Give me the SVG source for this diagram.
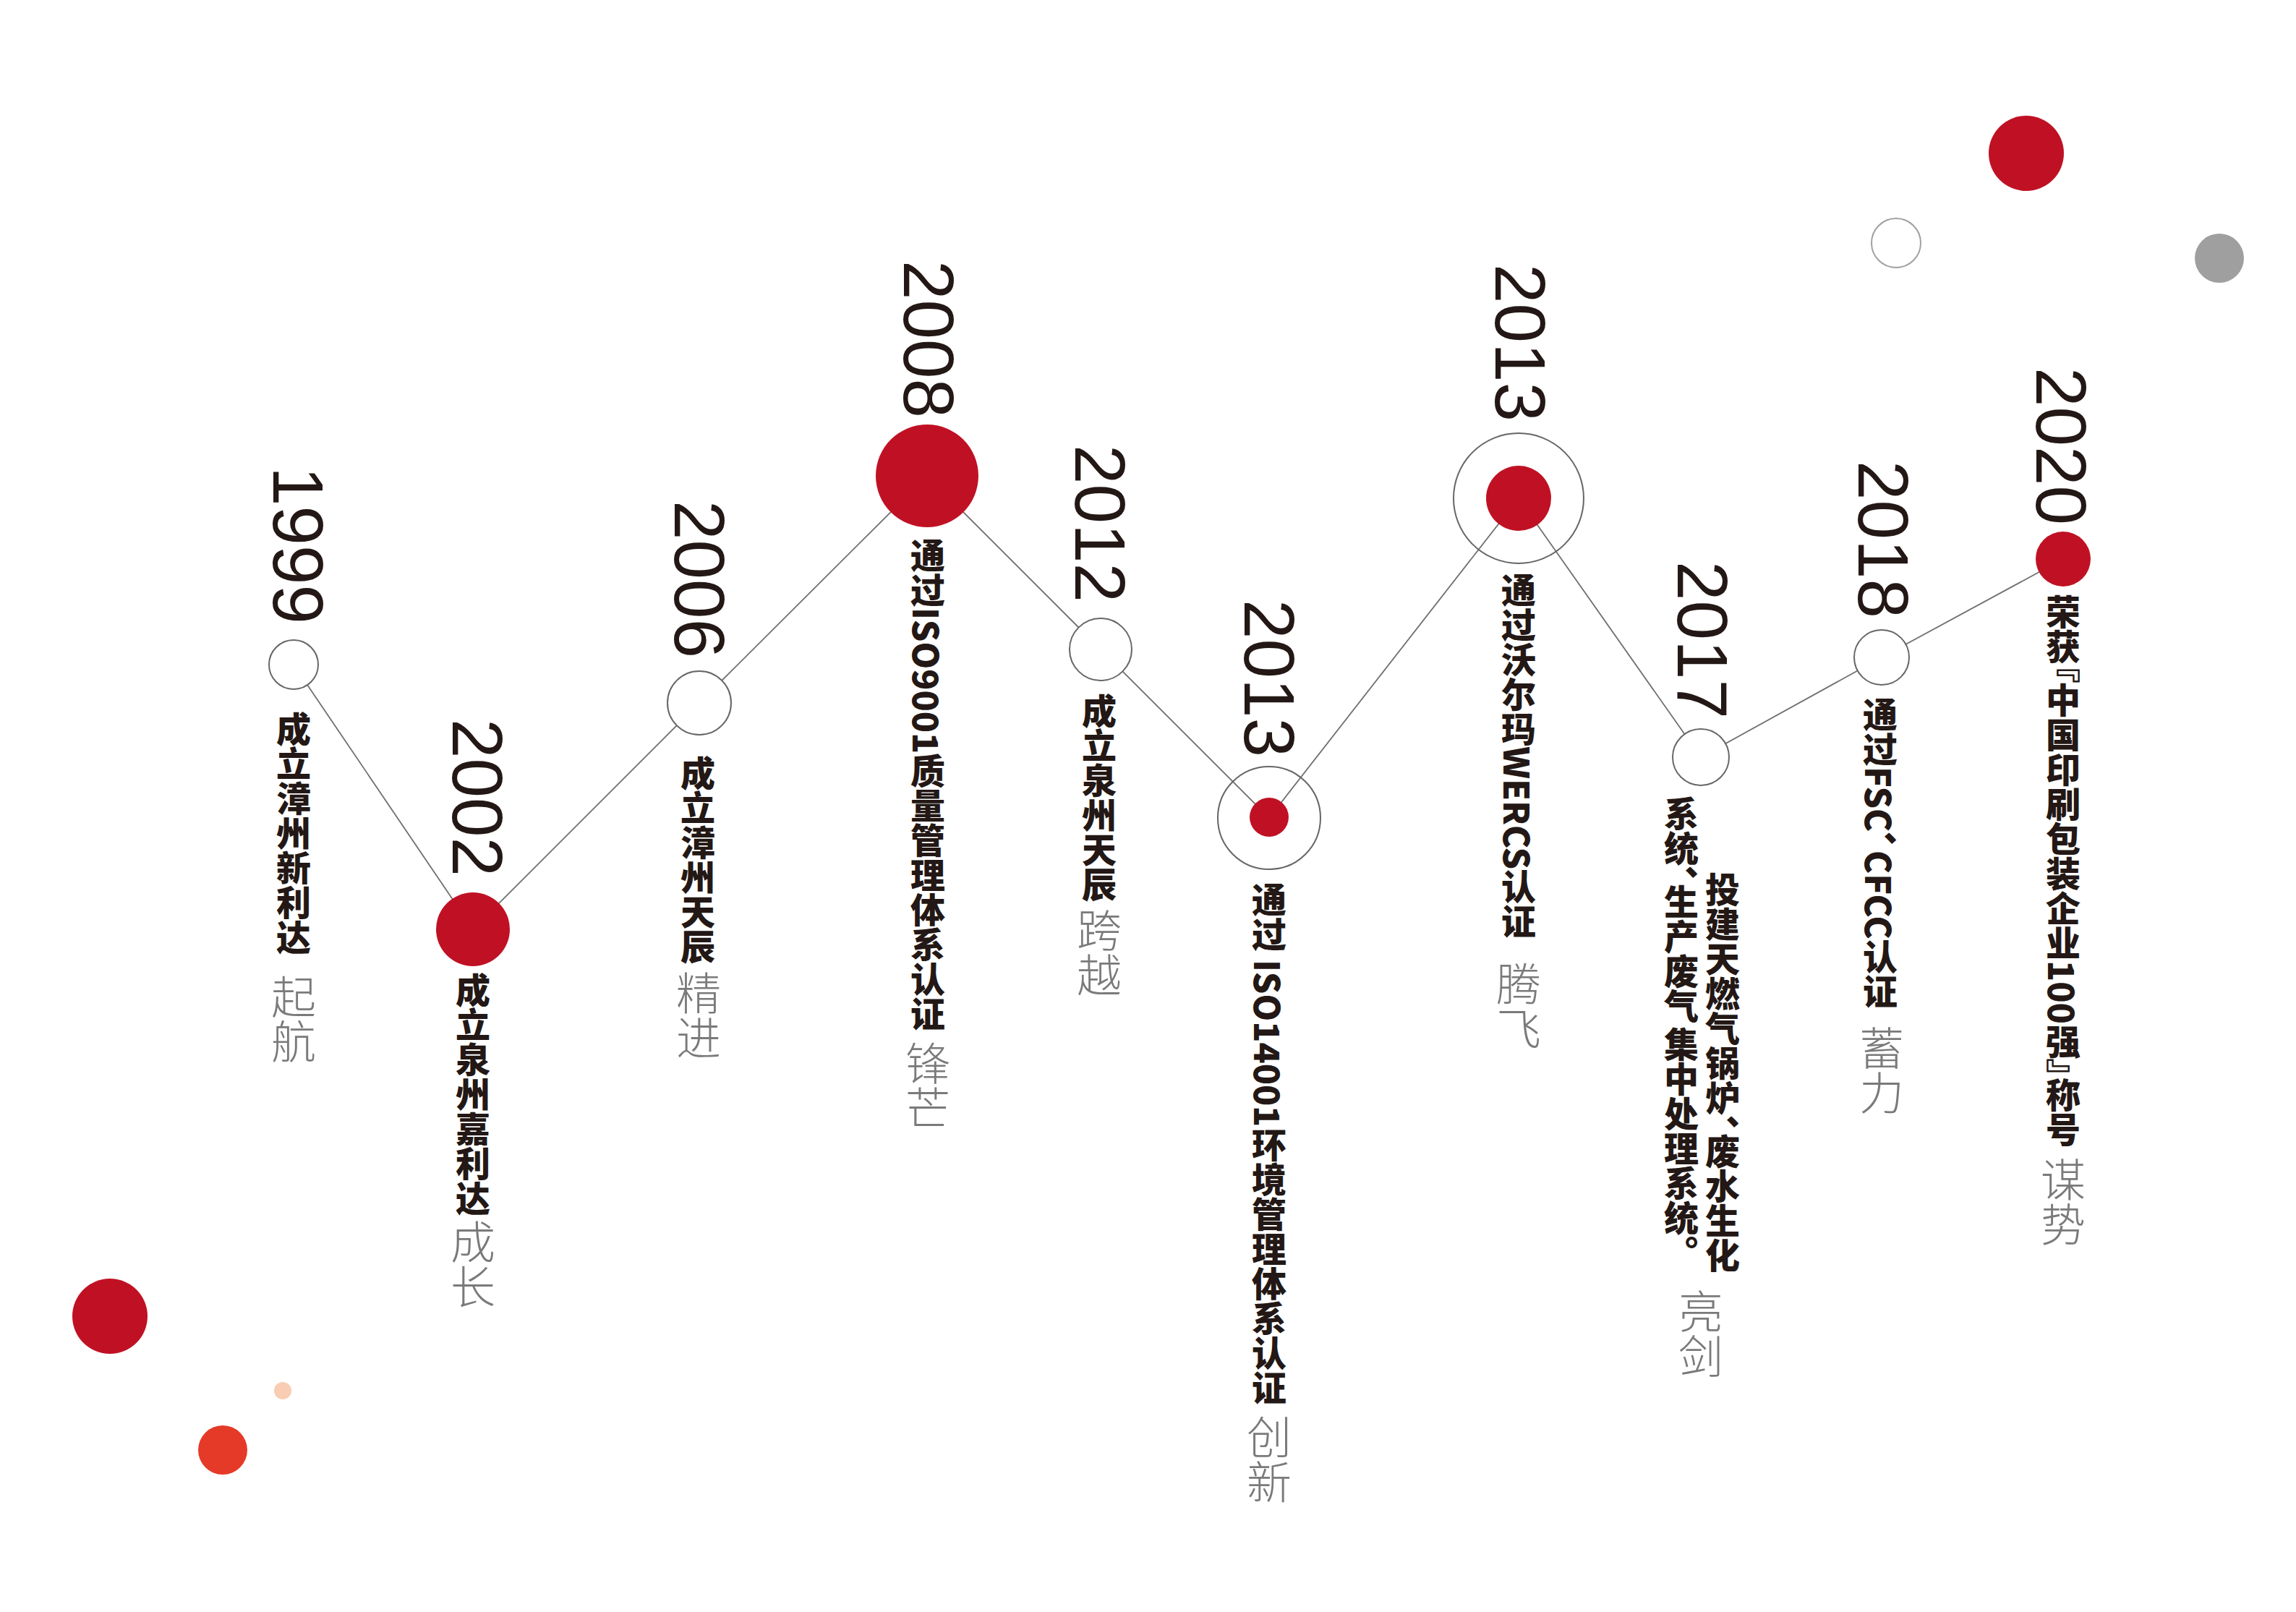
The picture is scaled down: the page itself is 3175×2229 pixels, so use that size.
<svg xmlns="http://www.w3.org/2000/svg" width="3175" height="2229" viewBox="0 0 3175 2229">
<style>
.yr{font-family:"Liberation Sans",Arial,sans-serif;font-size:98px;fill:#231815;}
.lb{font-family:"Noto Sans CJK SC",sans-serif;font-weight:900;font-size:48px;fill:#231815;writing-mode:vertical-rl;}
.gr{font-family:"Noto Sans CJK SC",sans-serif;font-weight:300;font-size:62px;fill:#7a7a7a;writing-mode:vertical-rl;}
.cp{letter-spacing:-22px;}
.hol{fill:#fff;stroke:#666;stroke-width:2;}
.ring{fill:none;stroke:#666;stroke-width:2;}
.red{fill:#c01124;}
.conn{fill:none;stroke:#707070;stroke-width:1.8;}
</style>
<rect width="3175" height="2229" fill="#fff"/>
<g id="decor">
<circle cx="2802" cy="212" r="52" fill="#c01124"/>
<circle cx="2622" cy="336" r="34" fill="none" stroke="#a0a0a0" stroke-width="2"/>
<circle cx="3069" cy="357" r="34" fill="#9f9f9f"/>
<circle cx="152" cy="1820" r="52" fill="#c01124"/>
<circle cx="391" cy="1923" r="12" fill="#f8cdb3"/>
<circle cx="308" cy="2005" r="34" fill="#e53a28"/>
</g>
<g id="connectors">
<polyline class="conn" points="406,919 654,1285 967,972 1282,658 1522,898 1755,1131 2100,689 2352,1047 2602,909 2853,773"/>
</g>
<g id="n1999">
<circle class="hol" cx="406" cy="919" r="34"/>
<text class="yr" transform="translate(378,645) rotate(90)">1999</text>
<text class="lb" x="406" y="984">成立漳州新利达</text>
<text class="gr" x="406" y="1347">起航</text>
</g>
<g id="n2002">
<circle class="red" cx="654" cy="1285" r="51"/>
<text class="yr" transform="translate(626,994) rotate(90)">2002</text>
<text class="lb" x="654" y="1345">成立泉州嘉利达</text>
<text class="gr" x="654" y="1686">成长</text>
</g>
<g id="n2006">
<circle class="hol" cx="967" cy="972" r="44"/>
<text class="yr" transform="translate(933,692) rotate(90)">2006</text>
<text class="lb" x="965" y="1045">成立漳州天辰</text>
<text class="gr" x="966" y="1342">精进</text>
</g>
<g id="n2008">
<circle class="red" cx="1282" cy="658" r="71"/>
<text class="yr" transform="translate(1250,360) rotate(90)">2008</text>
<text class="lb" x="1283" y="744">通过ISO9001质量管理体系认证</text>
<text class="gr" x="1283" y="1439">锋芒</text>
</g>
<g id="n2012">
<circle class="hol" cx="1522" cy="898" r="43"/>
<text class="yr" transform="translate(1487,615) rotate(90)">2012</text>
<text class="lb" x="1520" y="959">成立泉州天辰</text>
<text class="gr" x="1520" y="1255">跨越</text>
</g>
<g id="n2013a">
<circle class="ring" cx="1755" cy="1131" r="71"/>
<circle class="red" cx="1755" cy="1130" r="27"/>
<text class="yr" transform="translate(1721,829) rotate(90)">2013</text>
<text class="lb" x="1755" y="1220">通过 ISO14001环境管理体系认证</text>
<text class="gr" x="1755" y="1956">创新</text>
</g>
<g id="n2013b">
<circle class="ring" cx="2100" cy="689" r="90"/>
<circle class="red" cx="2100" cy="689" r="45"/>
<text class="yr" transform="translate(2068,365) rotate(90)">2013</text>
<text class="lb" x="2100" y="792">通过沃尔玛WERCS认证</text>
<text class="gr" x="2100" y="1329">腾飞</text>
</g>
<g id="n2017">
<circle class="hol" cx="2352" cy="1047" r="39"/>
<text class="yr" transform="translate(2320,776) rotate(90)">2017</text>
<text class="lb" x="2382" y="1206">投建天燃气锅炉<tspan class="cp">、</tspan>废水生化</text>
<text class="lb" x="2325" y="1101">系统<tspan class="cp">、</tspan>生产废气<tspan style="letter-spacing:-6px"> </tspan>集中处理系统。</text>
<text class="gr" x="2352" y="1782">亮剑</text>
</g>
<g id="n2018">
<circle class="hol" cx="2602" cy="909" r="38"/>
<text class="yr" transform="translate(2570,637) rotate(90)">2018</text>
<text class="lb" x="2600" y="964">通过FSC<tspan class="cp">、</tspan>CFCC认证</text>
<text class="gr" x="2602" y="1418">蓄力</text>
</g>
<g id="n2020">
<circle class="red" cx="2853" cy="773" r="38"/>
<text class="yr" transform="translate(2816,508) rotate(90)">2020</text>
<text class="lb" x="2853" y="822">荣<tspan class="cp">获</tspan>『中国印刷包装企业100强<tspan class="cp">』</tspan>称号</text>
<text class="gr" x="2853" y="1600">谋势</text>
</g>
</svg>
